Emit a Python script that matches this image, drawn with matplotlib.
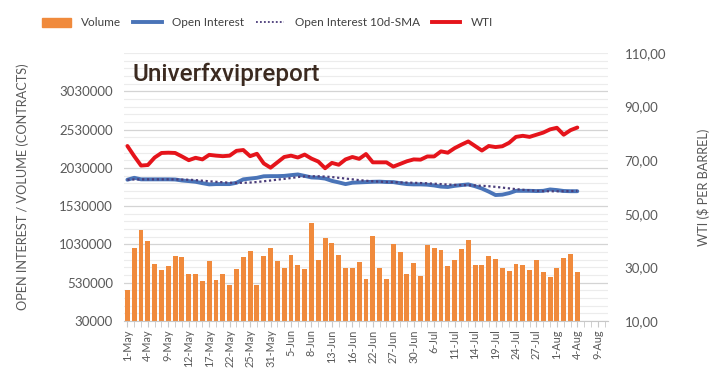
import matplotlib.pyplot as plt
import numpy as np
from matplotlib.lines import Line2D
from matplotlib.patches import Patch

# tick labels every 3 trading days
tick_labels = ['1-May', '4-May', '9-May', '12-May', '17-May', '22-May', '25-May', '31-May',
               '5-Jun', '8-Jun', '13-Jun', '16-Jun', '22-Jun', '27-Jun', '30-Jun', '6-Jul',
               '11-Jul', '14-Jul', '19-Jul', '24-Jul', '27-Jul', '1-Aug', '4-Aug', '9-Aug']

# volume (contracts)
volume = [433, 984, 1215, 1081, 768, 690, 742, 876, 863, 646,
          646, 551, 811, 568, 646, 503, 703, 863, 945, 503,
          876, 980, 811, 724, 889, 755, 703, 1306, 833, 1120,
          1050, 889, 724, 724, 798, 581, 1137, 724, 581, 1042,
          932, 638, 785, 616, 1023, 980, 958, 742, 824, 971,
          1089, 755, 755, 885, 837, 724, 677, 772, 759, 690,
          824, 664, 607, 716, 859, 902, 664]
volume = [v * 1000 for v in volume]

# open interest (contracts)
open_interest = [1875, 1900, 1880, 1880, 1880, 1880, 1880, 1878, 1865, 1857,
                 1848, 1830, 1814, 1818, 1818, 1818, 1835, 1880, 1890, 1900,
                 1920, 1922, 1922, 1925, 1935, 1944, 1925, 1905, 1901, 1890,
                 1860, 1840, 1818, 1836, 1840, 1844, 1848, 1850, 1845, 1844,
                 1830, 1818, 1814, 1814, 1810, 1800, 1785, 1780, 1795, 1805,
                 1814, 1790, 1760, 1720, 1675, 1680, 1700, 1730, 1730, 1730,
                 1727, 1730, 1748, 1740, 1728, 1725, 1725]
open_interest = [v * 1000 for v in open_interest]

# open interest 10d-SMA
oi_sma = [1875, 1878, 1880, 1880, 1880, 1880, 1880, 1879, 1877, 1875,
          1870, 1862, 1855, 1848, 1842, 1836, 1833, 1835, 1838, 1845,
          1855, 1865, 1876, 1886, 1897, 1910, 1918, 1920, 1920, 1916,
          1910, 1900, 1890, 1880, 1870, 1862, 1855, 1850, 1846, 1843,
          1840, 1838, 1835, 1832, 1828, 1823, 1818, 1812, 1808, 1805,
          1803, 1800, 1796, 1790, 1782, 1772, 1762, 1752, 1744, 1736,
          1730, 1726, 1724, 1724, 1725, 1727, 1729]
oi_sma = [v * 1000 for v in oi_sma]

# WTI ($ per barrel)
wti = [75.3, 71.5, 68.0, 68.2, 71.0, 72.7, 72.8, 72.7, 71.4, 70.0,
       70.9, 70.3, 72.0, 71.7, 71.5, 71.7, 73.5, 73.8, 71.5, 72.4,
       68.8, 67.2, 69.2, 71.2, 71.7, 71.0, 72.1, 70.6, 69.5, 67.0,
       69.0, 68.3, 70.3, 71.2, 70.5, 72.3, 69.2, 69.2, 69.2, 67.6,
       68.6, 69.6, 70.3, 70.2, 71.4, 71.4, 73.3, 72.8, 74.5, 75.8,
       77.0, 75.3, 73.6, 75.3, 74.9, 75.2, 76.5, 78.7, 79.1, 78.7,
       79.5, 80.3, 81.5, 82.1, 79.5, 81.2, 82.2]

left_ticks = [30000, 530000, 1030000, 1530000, 2030000, 2530000, 3030000]
right_ticks = [10, 30, 50, 70, 90, 110]

txt = '#595959'
plt.rcParams['font.family'] = ['Lato', 'DejaVu Sans']

fig = plt.figure(figsize=(7.2, 3.68), dpi=100)
ax = fig.add_subplot(111)
fig.subplots_adjust(left=124/720, right=608/720, bottom=1-321/368, top=1-53/368)

x = np.arange(len(volume))
ax.bar(x, volume, width=0.72, color='#F08A3C', zorder=2)
ax.plot(x, open_interest, color='#4A74B8', lw=2.8, zorder=3, solid_capstyle='round')
ax.plot(x, oi_sma, color='#4B3D7A', lw=1.6, ls=(0, (1, 1.2)), zorder=4)

ax.set_xlim(-0.5, 70.5)
ax.set_ylim(30000, 3530000)
ax.set_yticks(left_ticks)
ax.set_yticklabels([str(t) for t in left_ticks])
ax.set_yticks(np.arange(30000, 3530001, 100000), minor=True)
ax.grid(axis='y', which='major', color='#d4d4d4', lw=0.9, zorder=0)
ax.grid(axis='y', which='minor', color='#ececec', lw=0.8, zorder=0)
ax.set_axisbelow(True)

ax.set_xticks(np.arange(0, 3 * len(tick_labels), 3))
ax.set_xticklabels(tick_labels, rotation=90, fontsize=7.8, color=txt)
ax.set_xticks(np.arange(0, 71), minor=True)
ax.tick_params(axis='x', which='both', length=4, color='#c8c8c8', pad=2)
ax.tick_params(axis='y', which='both', length=0, labelsize=9.5, labelcolor=txt, pad=8)

for s in ['top', 'right', 'left']:
    ax.spines[s].set_visible(False)
ax.spines['bottom'].set_color('#c8c8c8')

ax.set_ylabel('OPEN INTEREST / VOLUME (CONTRACTS)', fontsize=9.2, color=txt, labelpad=22)

ax2 = ax.twinx()
ax2.plot(x, wti, color='#E5141B', lw=2.8, zorder=5, solid_capstyle='round')
ax2.set_ylim(10, 110)
ax2.set_yticks(right_ticks)
ax2.set_yticklabels([f'{t},00' for t in right_ticks])
ax2.tick_params(axis='y', length=0, labelsize=9.5, labelcolor=txt, pad=12)
for s in ax2.spines.values():
    s.set_visible(False)
ax2.set_ylabel('WTI ($ PER BARREL)', fontsize=9.2, color=txt, labelpad=22)

fig.text(133/720, 1-74/368, 'Univerfxvipreport', fontsize=17.5, color='#3b2a20',
         family='Roboto', weight='medium', va='center')

handles = [Patch(color='#F08A3C'),
           Line2D([], [], color='#4A74B8', lw=2.8),
           Line2D([], [], color='#4B3D7A', lw=1.3, ls=(0, (1, 1.2))),
           Line2D([], [], color='#E5141B', lw=2.8)]
labels = ['Volume', 'Open Interest', 'Open Interest 10d-SMA', 'WTI']
fig.legend(handles, labels, loc='center', bbox_to_anchor=(0.372, 1-23/368), ncol=4,
           frameon=False, fontsize=8.5, handlelength=2.4, handletextpad=0.9,
           columnspacing=1.0, labelcolor='#404040')

fig.savefig('out.png', dpi=100)
